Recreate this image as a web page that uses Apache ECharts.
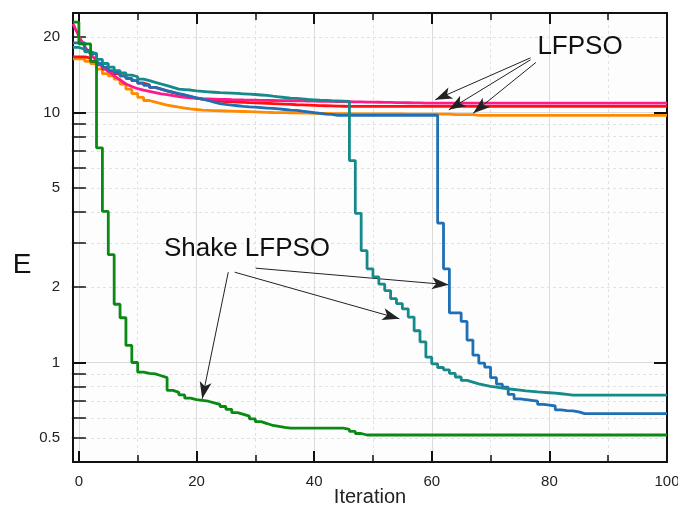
<!DOCTYPE html>
<html><head><meta charset="utf-8">
<script src="https://cdn.jsdelivr.net/npm/echarts@6/dist/echarts.min.js"></script>
<style>html,body{margin:0;padding:0;background:#fff}#c{width:678px;height:507px}</style>
</head><body><div id="c"></div>
<script>
// iterations start at -1 (first plotted point), one value per iteration
const X_START = -1;
const X_LABELS = [0, 20, 40, 60, 80, 100];
const X_MINOR = [10, 30, 50, 70, 90];
const Y_LABELS = [0.5, 1, 2, 5, 10, 20];
const Y_MAJOR = [1, 10];
const Y_MINOR = [0.5, 0.6, 0.7, 0.8, 0.9, 2, 3, 4, 5, 6, 7, 8, 9, 20];

// Shake LFPSO runs
const GREEN = [
 23, 18.8, 18.8, 16.0, 7.22, 4.02, 2.70, 1.71, 1.51, 1.17,
 1.00, 0.915, 0.905, 0.90, 0.885, 0.87, 0.774, 0.76, 0.742, 0.72,
 0.71, 0.705, 0.70, 0.69, 0.68, 0.667, 0.65, 0.63, 0.62, 0.61,
 0.595, 0.58, 0.57, 0.56, 0.555, 0.55, 0.546, 0.546, 0.546, 0.546,
 0.546, 0.546, 0.546, 0.546, 0.546, 0.546, 0.54, 0.53, 0.52, 0.513,
 0.513, 0.513, 0.513, 0.513, 0.513, 0.513, 0.513, 0.513, 0.513, 0.513,
 0.513, 0.513, 0.513, 0.513, 0.513, 0.513, 0.513, 0.513, 0.513, 0.513,
 0.513, 0.513, 0.513, 0.513, 0.513, 0.513, 0.513, 0.513, 0.513, 0.513,
 0.513, 0.513, 0.513, 0.513, 0.513, 0.513, 0.513, 0.513, 0.513, 0.513,
 0.513, 0.513, 0.513, 0.513, 0.513, 0.513, 0.513, 0.513, 0.513, 0.513,
 0.513, 0.513
];
const TEAL = [
 18.2, 17.9, 17.5, 17.2, 16.3, 15.7, 15.2, 14.7, 14.4, 14.1,
 13.9, 13.6, 13.4, 13.2, 13.0, 12.8, 12.6, 12.4, 12.35, 12.3,
 12.2, 12.15, 12.1, 12.05, 12.0, 11.98, 11.95, 11.92, 11.88, 11.84,
 11.8, 11.75, 11.7, 11.62, 11.55, 11.48, 11.42, 11.38, 11.33, 11.28,
 11.24, 11.2, 11.17, 11.14, 11.12, 11.1, 11.08, 6.42, 3.95, 2.80,
 2.37, 2.2, 2.06, 1.94, 1.80, 1.72, 1.64, 1.52, 1.34, 1.21,
 1.05, 0.988, 0.955, 0.935, 0.905, 0.875, 0.848, 0.835, 0.822, 0.812,
 0.803, 0.797, 0.79, 0.785, 0.78, 0.775, 0.77, 0.767, 0.763, 0.76,
 0.757, 0.754, 0.75, 0.745, 0.74, 0.74, 0.74, 0.74, 0.74, 0.74,
 0.74, 0.74, 0.74, 0.74, 0.74, 0.74, 0.74, 0.74, 0.74, 0.74,
 0.74, 0.74
];
const BLUE = [
 19.0, 19.0, 17.7, 17.2, 15.7, 15.2, 14.7, 14.4, 14.0, 13.7,
 13.4, 13.1, 12.85, 12.6, 12.4, 12.2, 12.06, 11.9, 11.75, 11.6,
 11.45, 11.3, 11.17, 11.0, 10.85, 10.77, 10.7, 10.64, 10.58, 10.53,
 10.5, 10.46, 10.42, 10.38, 10.33, 10.28, 10.22, 10.2, 10.12, 10.05,
 9.98, 9.92, 9.86, 9.82, 9.75, 9.75, 9.75, 9.75, 9.75, 9.75,
 9.75, 9.75, 9.75, 9.75, 9.75, 9.75, 9.75, 9.75, 9.75, 9.75,
 9.75, 9.75, 3.61, 2.37, 1.58, 1.58, 1.46, 1.23, 1.07, 0.994,
 0.958, 0.87, 0.82, 0.797, 0.745, 0.715, 0.71, 0.705, 0.70, 0.68,
 0.675, 0.67, 0.646, 0.642, 0.64, 0.635, 0.625, 0.625, 0.625, 0.625,
 0.625, 0.625, 0.625, 0.625, 0.625, 0.625, 0.625, 0.625, 0.625, 0.625,
 0.625, 0.625
];
// LFPSO runs
const RED = [
 16.7, 16.7, 16.5, 16.0, 15.5, 14.9, 14.6, 14.3, 14.0, 13.7,
 13.4, 13.1, 12.9, 12.6, 12.4, 12.2, 12.0, 11.85, 11.7, 11.55,
 11.42, 11.3, 11.2, 11.15, 11.1, 11.06, 11.03, 11.0, 10.98, 10.95,
 10.93, 10.91, 10.89, 10.86, 10.83, 10.8, 10.77, 10.74, 10.72, 10.7,
 10.68, 10.66, 10.64, 10.62, 10.6, 10.59, 10.58, 10.57, 10.57, 10.57,
 10.57, 10.57, 10.57, 10.57, 10.57, 10.57, 10.57, 10.57, 10.57, 10.57,
 10.57, 10.57, 10.57, 10.57, 10.57, 10.57, 10.57, 10.57, 10.57, 10.57,
 10.57, 10.57, 10.57, 10.57, 10.57, 10.57, 10.57, 10.57, 10.57, 10.57,
 10.57, 10.57, 10.57, 10.57, 10.57, 10.57, 10.57, 10.57, 10.57, 10.57,
 10.57, 10.57, 10.57, 10.57, 10.57, 10.57, 10.57, 10.57, 10.57, 10.57,
 10.57, 10.57
];
const PINK = [
 22.6, 20.2, 18.3, 17.1, 16.1, 15.2, 14.6, 14.0, 13.5, 13.0,
 12.7, 12.45, 12.3, 12.15, 12.0, 11.88, 11.78, 11.68, 11.58, 11.5,
 11.45, 11.4, 11.35, 11.33, 11.31, 11.29, 11.27, 11.25, 11.24, 11.22,
 11.21, 11.2, 11.19, 11.18, 11.17, 11.16, 11.15, 11.14, 11.13, 11.12,
 11.11, 11.1, 11.09, 11.08, 11.07, 11.06, 11.05, 11.04, 11.03, 11.02,
 11.01, 11.0, 10.99, 10.98, 10.97, 10.96, 10.95, 10.94, 10.93, 10.92,
 10.91, 10.9, 10.9, 10.9, 10.9, 10.9, 10.9, 10.9, 10.9, 10.9,
 10.9, 10.9, 10.9, 10.9, 10.9, 10.9, 10.9, 10.9, 10.9, 10.9,
 10.9, 10.9, 10.9, 10.9, 10.9, 10.9, 10.9, 10.9, 10.9, 10.9,
 10.9, 10.9, 10.9, 10.9, 10.9, 10.9, 10.9, 10.9, 10.9, 10.9,
 10.9, 10.9
];
const ORANGE = [
 16.4, 16.4, 16.0, 15.7, 14.9, 14.3, 14.0, 13.6, 13.0, 12.4,
 11.9, 11.5, 11.17, 11.0, 10.85, 10.7, 10.6, 10.5, 10.42, 10.34,
 10.28, 10.22, 10.2, 10.18, 10.16, 10.14, 10.12, 10.1, 10.09, 10.08,
 10.06, 10.04, 10.02, 10.0, 9.99, 9.98, 9.97, 9.96, 9.95, 9.94,
 9.93, 9.92, 9.91, 9.9, 9.9, 9.89, 9.89, 9.88, 9.88, 9.88,
 9.88, 9.88, 9.88, 9.88, 9.88, 9.88, 9.85, 9.85, 9.85, 9.85,
 9.85, 9.85, 9.85, 9.85, 9.8, 9.8, 9.8, 9.8, 9.73, 9.73,
 9.73, 9.73, 9.73, 9.73, 9.73, 9.73, 9.73, 9.73, 9.73, 9.73,
 9.73, 9.73, 9.73, 9.73, 9.73, 9.73, 9.73, 9.73, 9.73, 9.73,
 9.73, 9.73, 9.73, 9.73, 9.73, 9.73, 9.73, 9.73, 9.73, 9.73,
 9.73, 9.73
];

// annotation arrows: [fromX, fromY, toX, toY] in data units
const ARROWS_LFPSO = [[76.8, 16.55, 60.6, 11.24], [76.8, 16.25, 62.9, 10.25], [77.7, 15.85, 67.05, 9.94]];
const ARROWS_SHAKE = [[25.4, 2.297, 20.97, 0.716], [26.5, 2.297, 54.5, 1.496], [30.07, 2.384, 62.9, 2.046]];

const FONT = '"Liberation Sans", Arial, Helvetica, sans-serif';
const chart = echarts.init(document.getElementById('c'), null, {renderer: 'canvas'});

function toPairs(vals) { return vals.map((v, i) => [X_START + i, v]); }
function mk(name, vals, color, step, z, extra) {
  return Object.assign({
    type: 'line', name: name, data: toPairs(vals), step: step ? 'end' : false,
    showSymbol: false, symbol: 'none', z: z, animation: false, silent: true,
    lineStyle: {color: color, width: 2.8}, itemStyle: {color: color}
  }, extra || {});
}
function arrowData(list) {
  return list.map(a => [
    {coord: [a[0], a[1]], symbol: 'none'},
    {coord: [a[2], a[3]], symbol: 'arrow', symbolSize: [9, 17]}
  ]);
}

const xBase = {type: 'value', min: -1, max: 100, gridIndex: 0};
const yBase = {type: 'log', logBase: 10, min: 0.4, max: 25, gridIndex: 0};
const axisLine = {show: true, onZero: false, lineStyle: {color: '#111', width: 2}};
const hidden = {show: false};

const option = {
  backgroundColor: '#ffffff',
  animation: false,
  grid: {left: 73, right: 11, top: 13, bottom: 45, containLabel: false, outerBoundsMode: 'none',
    show: true, backgroundColor: '#fdfdfe', borderWidth: 0},
  xAxis: [
    Object.assign({}, xBase, {
      position: 'bottom', axisLine: axisLine,
      axisTick: {show: true, inside: true, length: 11, customValues: X_LABELS, lineStyle: {color: '#111', width: 2}},
      axisLabel: {show: true, customValues: X_LABELS, margin: 12, fontSize: 15, color: '#222', fontFamily: FONT},
      splitLine: {show: true, lineStyle: {color: '#dcdcdc', width: 1}},
      name: 'Iteration', nameLocation: 'middle', nameGap: 25, nameMoveOverlap: false,
      nameTextStyle: {fontSize: 20, color: '#222', fontFamily: FONT}
    }),
    Object.assign({}, xBase, {
      position: 'bottom', axisLine: hidden, axisLabel: hidden,
      axisTick: {show: true, inside: true, length: 7, customValues: X_MINOR, lineStyle: {color: '#111', width: 1.5}},
      splitLine: {show: true, lineStyle: {color: '#e2e2e2', width: 1, type: [3, 3]}}
    }),
    Object.assign({}, xBase, {
      position: 'top', axisLine: axisLine, axisLabel: hidden, splitLine: hidden,
      axisTick: {show: true, inside: true, length: 11, customValues: X_LABELS, lineStyle: {color: '#111', width: 2}}
    }),
    Object.assign({}, xBase, {
      position: 'top', axisLine: hidden, axisLabel: hidden, splitLine: hidden,
      axisTick: {show: true, inside: true, length: 7, customValues: X_MINOR, lineStyle: {color: '#111', width: 1.5}}
    })
  ],
  yAxis: [
    Object.assign({}, yBase, {
      position: 'left', axisLine: axisLine,
      axisTick: {show: true, inside: true, length: 13, customValues: Y_MAJOR, lineStyle: {color: '#111', width: 2}},
      axisLabel: {show: true, customValues: Y_LABELS, margin: 13, fontSize: 15, color: '#222', fontFamily: FONT,
        formatter: v => String(+Number(v).toPrecision(3))},
      splitLine: {show: true, lineStyle: {color: '#dcdcdc', width: 1}}
    }),
    Object.assign({}, yBase, {
      position: 'left', axisLine: hidden, axisLabel: hidden,
      axisTick: {show: true, inside: true, length: 7, customValues: Y_MINOR, lineStyle: {color: '#111', width: 1.5}},
      splitLine: {show: true, lineStyle: {color: '#e2e2e2', width: 1, type: [3, 3]}}
    }),
    Object.assign({}, yBase, {
      position: 'right', axisLine: axisLine, axisLabel: hidden, splitLine: hidden,
      axisTick: {show: true, inside: true, length: 13, customValues: Y_MAJOR, lineStyle: {color: '#111', width: 2}}
    }),
    Object.assign({}, yBase, {
      position: 'right', axisLine: hidden, axisLabel: hidden, splitLine: hidden,
      axisTick: {show: true, inside: true, length: 7, customValues: Y_MINOR, lineStyle: {color: '#111', width: 1.5}}
    })
  ],
  series: [
    mk('LFPSO orange', ORANGE, '#ff8a00', true, 2),
    mk('LFPSO red', RED, '#ff1010', true, 3),
    mk('LFPSO pink', PINK, '#ff1a8c', false, 4),
    mk('Shake LFPSO blue', BLUE, '#1f6fb5', true, 5),
    mk('Shake LFPSO teal', TEAL, '#16898a', true, 6),
    mk('Shake LFPSO green', GREEN, '#0a8a12', true, 7, {
      markLine: {
        silent: true, animation: false, label: {show: false}, emphasis: {disabled: true},
        lineStyle: {color: '#222', width: 1, type: 'solid'},
        data: arrowData(ARROWS_LFPSO).concat(arrowData(ARROWS_SHAKE))
      }
    })
  ],
  graphic: [
    {type: 'text', z: 100, style: {x: 580, y: 47, text: 'LFPSO', textAlign: 'center', textVerticalAlign: 'middle', font: '26px ' + FONT, fill: '#111'}},
    {type: 'text', z: 100, style: {x: 247, y: 249, text: 'Shake LFPSO', textAlign: 'center', textVerticalAlign: 'middle', font: '26px ' + FONT, fill: '#111'}},
    {type: 'text', z: 100, style: {x: 22, y: 265, text: 'E', textAlign: 'center', textVerticalAlign: 'middle', font: '28px ' + FONT, fill: '#111'}}
  ]
};
chart.setOption(option);
</script></body></html>
